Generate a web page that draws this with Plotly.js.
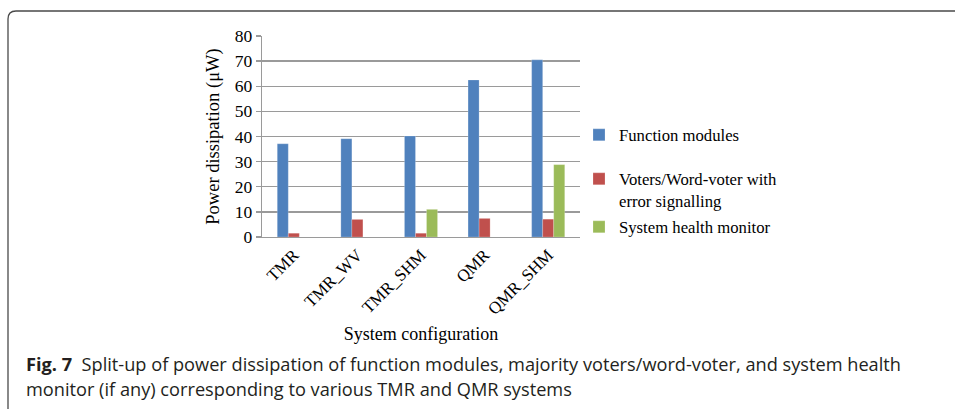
<!DOCTYPE html>
<html>
<head>
<meta charset="utf-8">
<script src="https://cdn.plot.ly/plotly-3.0.1.min.js"></script>
<style>html,body{margin:0;padding:0;background:#fff;}#chart{width:955px;height:409px;}</style>
</head>
<body>
<div id="chart"></div>
<script>
// ---- data ----
const categories = ['TMR', 'TMR_WV', 'TMR_SHM', 'QMR', 'QMR_SHM'];
const functionModules = [37.1, 39.1, 40.2, 62.5, 70.5];
const voterModules = [1.5, 7.0, 1.5, 7.4, 7.1];
const healthMonitor = [0, 0, 11.0, 0, 28.8];
const seriesNames = ['Function modules', 'Voters/Word-voter with<br>error signalling', 'System health monitor'];
const yTicks = [0, 10, 20, 30, 40, 50, 60, 70, 80];

// ---- layout geometry ----
const W = 955, H = 409;
const M = {l: 262, r: 375, t: 36, b: 172};
const pw = W - M.l - M.r, ph = H - M.t - M.b;
const px = x => (x - M.l) / pw;
const py = y => 1 - (y - M.t) / ph;

const serif = 'Liberation Serif, Times New Roman, serif';
const capFont = 'Open Sans, Noto Sans, sans-serif';
const colors = ['#4F81BD', '#C0504D', '#9BBB59'];
const values = [functionModules, voterModules, healthMonitor];

const traces = values.map((v, i) => ({
  type: 'bar',
  x: categories,
  y: v,
  name: seriesNames[i],
  showlegend: true,
  marker: {color: colors[i], line: {color: 'rgba(255,255,255,0.35)', width: 0.6}},
  legend: i === 0 ? 'legend' : 'legend' + (i + 1),
  hoverinfo: 'x+y+name'
}));

const legendBase = {
  x: px(579), xanchor: 'left', yanchor: 'middle',
  font: {family: serif, size: 16.7, color: '#000'},
  bgcolor: 'rgba(0,0,0,0)', borderwidth: 0, valign: 'top', visible: true
};

const framePath = 'M' + px(8) + ',' + py(415) + ' L' + px(8) + ',' + py(19) +
  ' Q' + px(8) + ',' + py(11) + ' ' + px(16) + ',' + py(11) + ' L' + px(970) + ',' + py(11);

const layout = {
  width: W, height: H,
  margin: M,
  showlegend: true,
  paper_bgcolor: '#fff', plot_bgcolor: '#fff',
  barmode: 'group', bargap: 0.48, bargroupgap: 0,
  font: {family: serif, color: '#000'},
  xaxis: {
    type: 'category',
    tickangle: -45,
    tickfont: {family: serif, size: 17, color: '#000'},
    showline: true, linecolor: '#9a9a9a', linewidth: 1.3,
    ticks: '', showgrid: false, zeroline: false,
    title: {text: 'System configuration', font: {family: serif, size: 18, color: '#000'}, standoff: 10}
  },
  yaxis: {
    range: [0, 80],
    tickvals: yTicks,
    ticktext: yTicks.map(String),
    tickfont: {family: serif, size: 17.5, color: '#000'},
    showline: true, linecolor: '#9a9a9a', linewidth: 1.3,
    ticks: 'outside', ticklen: 5, tickcolor: '#9a9a9a', tickwidth: 1.3,
    showgrid: true, gridcolor: '#9a9a9a', gridwidth: 1.3,
    zeroline: false,
    title: {text: 'Power dissipation (μW)', font: {family: serif, size: 18.5, color: '#000'}, standoff: 10}
  },
  legend: Object.assign({}, legendBase, {y: py(135)}),
  legend2: Object.assign({}, legendBase, {y: py(190)}),
  legend3: Object.assign({}, legendBase, {y: py(227)}),
  shapes: [{
    type: 'path', xref: 'paper', yref: 'paper', path: framePath,
    line: {color: '#4a4a4a', width: 1.3}
  }],
  annotations: [
    {
      xref: 'paper', yref: 'paper', x: px(24), y: py(364), xanchor: 'left', yanchor: 'middle',
      showarrow: false, align: 'left',
      text: '<b>Fig. 7</b>\u00a0\u00a0Split-up of power dissipation of function modules, majority voters/word-voter, and system health',
      font: {family: capFont, size: 18.2, color: '#231f20'}
    },
    {
      xref: 'paper', yref: 'paper', x: px(24), y: py(389), xanchor: 'left', yanchor: 'middle',
      showarrow: false, align: 'left',
      text: 'monitor (if any) corresponding to various TMR and QMR systems',
      font: {family: capFont, size: 18.2, color: '#231f20'}
    }
  ]
};

Plotly.newPlot('chart', traces, layout, {displayModeBar: false, staticPlot: true});
</script>
</body>
</html>
